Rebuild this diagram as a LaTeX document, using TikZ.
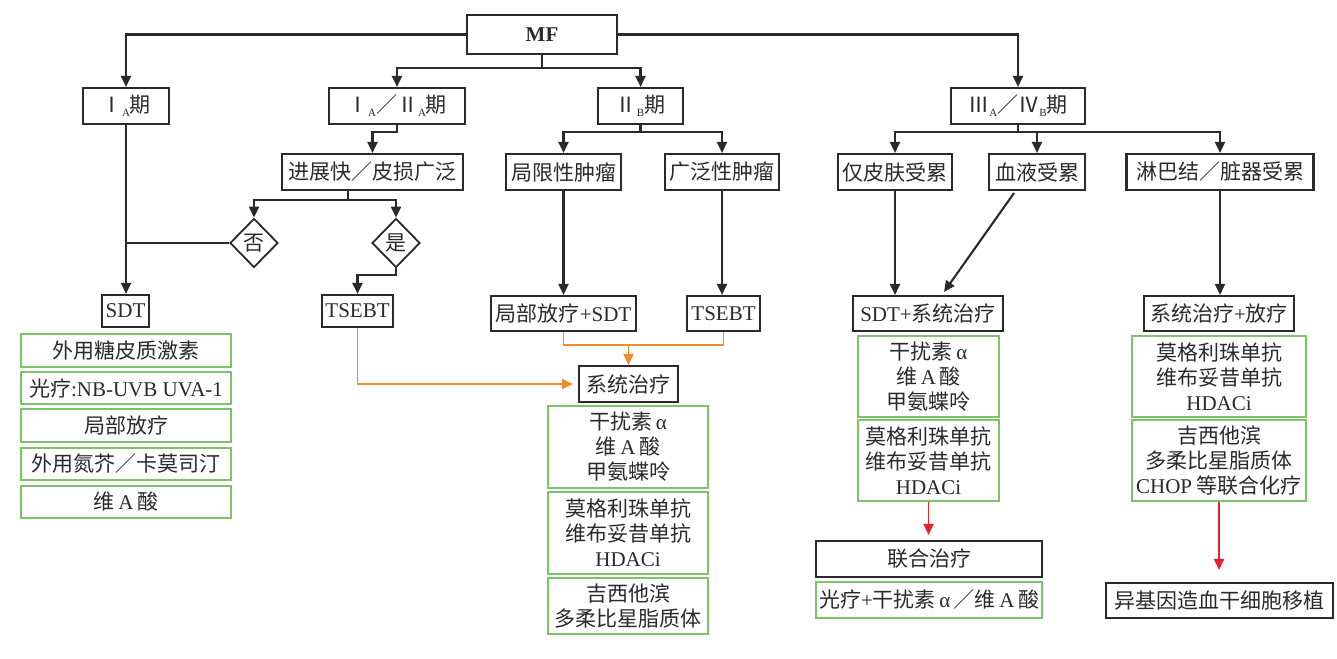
\documentclass[tikz,border=0pt]{standalone}
\usepackage{fontspec}
\setmainfont{Noto Sans CJK SC}
\newfontfamily\latf{Liberation Serif}
\usetikzlibrary{arrows.meta,shapes.geometric,calc}
\definecolor{linec}{HTML}{2A2A2A}
\definecolor{grn}{HTML}{7CC36A}
\definecolor{org}{HTML}{F08C2E}
\definecolor{rd}{HTML}{E3232C}
\newcommand\la[1]{{\latf #1}}
\newcommand\sbs[1]{\raisebox{-0.35ex}{\latf\fontsize{11}{11}\selectfont #1}}
\begin{document}
\begin{tikzpicture}[x=1pt,y=-1pt,
  every node/.style={font=\fontsize{21}{25}\selectfont, align=center, inner sep=0pt, text=linec},
  bx/.style={draw=linec, line width=2.1pt, minimum height=36pt},
  gb/.style={draw=grn, line width=1.6pt},
  ln/.style={draw=linec, line width=2.1pt},
  arr/.style={ln, -{Triangle[width=10pt,length=11pt]}},
  oln/.style={draw=org, line width=1.8pt},
  oarr/.style={oln, -{Triangle[width=10pt,length=11pt]}},
  rarr/.style={draw=rd, line width=1.8pt, -{Triangle[width=10pt,length=11pt]}},
  dia/.style={diamond, draw=linec, line width=1.8pt, minimum width=48pt, minimum height=49pt}]
\fill[white] (0,0) rectangle (1337,658);
% top level
\node[bx, minimum width=150pt, minimum height=39pt] (MF) at (542,34.5) {\la{\bfseries MF}};
\node[bx, minimum width=86pt] (IA) at (126,106) {Ⅰ\sbs{A}期};
\node[bx, minimum width=136pt] (IAIIA) at (397,106) {Ⅰ\sbs{A}／Ⅱ\sbs{A}期};
\node[bx, minimum width=85pt] (IIB) at (640.5,106) {Ⅱ\sbs{B}期};
\node[bx, minimum width=134pt] (III) at (1018,106) {Ⅲ\sbs{A}／Ⅳ\sbs{B}期};
% row 2
\node[bx, minimum width=181pt] (JZK) at (372.5,172) {进展快／皮损广泛};
\node[bx, minimum width=115pt] (JX) at (563.5,172) {局限性肿瘤};
\node[bx, minimum width=114pt] (GF) at (722,172) {广泛性肿瘤};
\node[bx, minimum width=114pt] (SK) at (895,172) {仅皮肤受累};
\node[bx, minimum width=96pt] (XY) at (1037,172) {血液受累};
\node[bx, minimum width=187pt] (LB) at (1220,172) {淋巴结／脏器受累};
% diamonds
\node[dia] (No) at (254,243) {否};
\node[dia] (Yes) at (396,243) {是};
% row 3
\node[bx, minimum width=47pt, minimum height=32pt] (SDT) at (125.5,311) {\la{SDT}};
\node[bx, minimum width=71pt, minimum height=32pt] (T1) at (357.5,311) {\la{TSEBT}};
\node[bx, minimum width=145pt, minimum height=35pt] (JF) at (563.5,313.5) {局部放疗\la{+SDT}};
\node[bx, minimum width=73pt, minimum height=35pt] (T2) at (723.5,313.5) {\la{TSEBT}};
\node[bx, minimum width=150pt, minimum height=35pt] (SS) at (928,313.5) {\la{SDT+}系统治疗};
\node[bx, minimum width=150pt, minimum height=35pt] (LR) at (1219,313.5) {系统治疗\la{+}放疗};
\node[bx, minimum width=99pt] (XT) at (628.5,384) {系统治疗};
% left green
\node[gb, minimum width=210pt, minimum height=33pt] (g1) at (126,350.5) {外用糖皮质激素};
\node[gb, minimum width=210pt, minimum height=32pt] (g2) at (126,388) {光疗\la{:NB-UVB UVA-1}};
\node[gb, minimum width=210pt, minimum height=33pt] (g3) at (126,425.5) {局部放疗};
\node[gb, minimum width=210pt, minimum height=32pt] (g4) at (126,464) {外用氮芥／卡莫司汀};
\node[gb, minimum width=210pt, minimum height=32pt] (g5) at (126,502) {维\la{\,A\,}酸};
% center green
\node[gb, minimum width=160pt, minimum height=82pt] (c1) at (628,447) {干扰素\la{\,α}\\维\la{\,A\,}酸\\甲氨蝶呤};
\node[gb, minimum width=160pt, minimum height=82pt] (c2) at (628,533) {莫格利珠单抗\\维布妥昔单抗\\\la{HDACi}};
\node[gb, minimum width=160pt, minimum height=56pt] (c3) at (628,606) {吉西他滨\\多柔比星脂质体};
% SDT+ green
\node[gb, minimum width=141pt, minimum height=81pt] (s1) at (928.5,376.5) {干扰素\la{\,α}\\维\la{\,A\,}酸\\甲氨蝶呤};
\node[gb, minimum width=141pt, minimum height=81pt] (s2) at (928.5,460.5) {莫格利珠单抗\\维布妥昔单抗\\\la{HDACi}};
% right green
\node[gb, minimum width=174pt, minimum height=81pt] (r1) at (1219,376.5) {莫格利珠单抗\\维布妥昔单抗\\\la{HDACi}};
\node[gb, minimum width=174pt, minimum height=81pt] (r2) at (1219,460.5) {吉西他滨\\多柔比星脂质体\\\la{CHOP} 等联合化疗};
% bottom
\node[bx, minimum width=226pt, minimum height=36pt] (LH) at (929,559) {联合治疗};
\node[gb, minimum width=226pt, minimum height=36pt] (LG) at (929,600) {光疗\la{+}干扰素\la{\,α\,}／维\la{\,A\,}酸};
\node[bx, minimum width=227pt, minimum height=35pt] (YJ) at (1219.5,600.5) {异基因造血干细胞移植};
% connectors
\draw[arr] (MF.west) -| (IA.north);
\draw[arr] (MF.east) -| (III.north);
\draw[ln] (MF.south) -- ++(0,13) coordinate (mfb);
\draw[arr] (mfb) -| (IAIIA.north);
\draw[arr] (mfb) -| (IIB.north);
\draw[arr] (IAIIA.south) -- ++(0,7) -| (JZK.north);
\coordinate (jb) at ($(JZK.south)+(-24.5,9)$);
\draw[ln] (JZK.south -| jb) -- (jb);
\draw[arr] (jb) -| (No.north);
\draw[arr] (jb) -| (Yes.north);
\draw[arr] (IA.south) -- (IA.south |- SDT.north);
\draw[ln] (No.west) -- (No.west -| IA.south);
\draw[arr] (Yes.south) -- ++(0,7) -| (T1.north);
\draw[ln] (IIB.south) -- ++(0,7) coordinate (iib);
\draw[arr] (iib) -| (JX.north);
\draw[arr] (iib) -| (GF.north);
\draw[arr] (JX.south) -- (JX.south |- JF.north);
\draw[arr] (GF.south) -- (GF.south |- T2.north);
\draw[oln] (JF.south) -- ++(0,13) coordinate (ob) -| (T2.south);
\draw[oarr] (ob -| XT.north) -- (XT.north);
\draw[oarr, shorten >=5pt] (T1.south) |- (XT.west);
\draw[ln] (III.south) -- ++(0,7) coordinate (ib);
\draw[arr] (ib) -| (SK.north);
\draw[arr] (ib) -| (XY.north);
\draw[arr] (ib) -| (LB.north);
\draw[arr] (SK.south) -- (SK.south |- SS.north);
\draw[arr] ($(XY.south)+(-23,2)$) -- ($(SS.north)+(16,-3)$);
\draw[arr] (LB.south) -- (LB.south |- LR.north);
\draw[rarr, shorten >=5pt] (s2.south) -- (s2.south |- LH.north);
\draw[rarr, shorten >=12pt] (r2.south) -- (r2.south |- YJ.north);
\end{tikzpicture}
\end{document}
